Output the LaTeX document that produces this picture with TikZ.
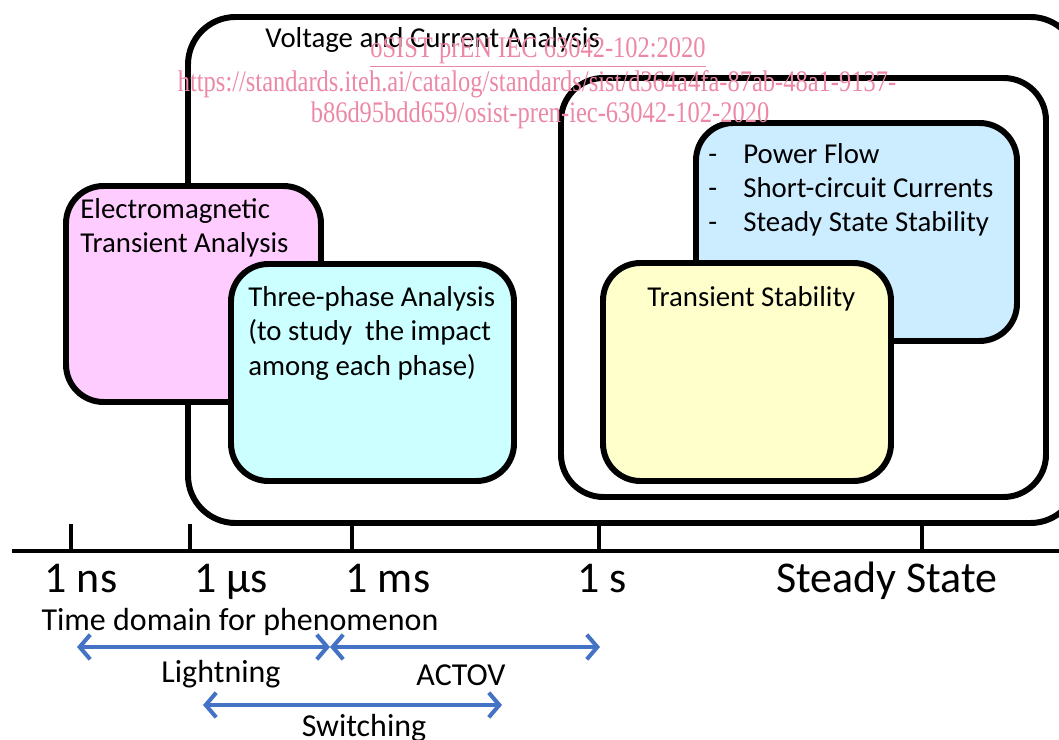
\documentclass[tikz,border=0pt]{standalone}
\usepackage{fontspec}
\setmainfont{Carlito}
\newfontfamily\wmfont{Liberation Serif}
\usetikzlibrary{arrows.meta,positioning}

\definecolor{emtpink}{HTML}{FFCCFF}
\definecolor{tpcyan}{HTML}{CCFFFF}
\definecolor{pfblue}{HTML}{CCECFF}
\definecolor{tsyellow}{HTML}{FFFFCC}
\definecolor{spanblue}{HTML}{4472C4}
\definecolor{wmpink}{HTML}{EC88A6}

\tikzset{
  frame/.style={draw=black, line width=3.4pt, rounded corners=0.95cm},
  area/.style={draw=black, line width=3.4pt, rounded corners=0.75cm},
  lbl/.style={anchor=base west, align=left, inner sep=0pt, font=\fontsize{16.4}{19.4}\selectfont},
  ticklbl/.style={anchor=base, inner sep=0pt, font=\fontsize{25}{28}\selectfont},
  phlbl/.style={anchor=base, inner sep=0pt, font=\fontsize{18.2}{21}\selectfont},
  axistick/.style={line width=2.4pt},
  span/.style={draw=spanblue, line width=2.3pt,
    {Straight Barb[length=6pt,width=14pt]}-{Straight Barb[length=6pt,width=14pt]}},
  wm/.style={anchor=base, inner sep=0pt, text=wmpink, font=\wmfont\fontsize{17}{20}\selectfont},
}

\begin{document}
\begin{tikzpicture}[x=0.02cm, y=-0.02cm]
        \useasboundingbox (0,0) rectangle (1059,740);
        % frames
        \draw [frame] (188,17) rectangle (1078,523);
        \draw [frame, rounded corners=0.85cm] (561,78) rectangle (1046,497);
        % coloured areas
        \draw [area, fill=pfblue] (696,123) rectangle (1017,341);
        \draw [area, fill=tsyellow] (603,263) rectangle (891,481);
        \draw [area, fill=emtpink] (66,186) rectangle (321,402);
        \draw [area, fill=tpcyan] (231,264) rectangle (514,481);
        % texts (base = last line)
        \node [lbl] (vca) at (265,48) {Voltage and Current Analysis};
        \node [lbl] (emt) at (80,253) {Electromagnetic\\Transient Analysis};
        \node [lbl] (tpa) at (248,375) {Three-phase Analysis\\(to study\ \ the impact\\among each phase)};
        \node [lbl] (dash) at (708,232) {-\\-\\-};
        \node [lbl] (pf) at (743,232) {Power Flow\\Short-circuit Currents\\Steady State Stability};
        \node [lbl] (ts) at (647,306) {Transient Stability};
        % time axis
        \draw [line width=2.8pt] (12,551) -- (1059,551);
        \foreach \x in {71,190,352,599,922}
          \draw [axistick] (\x,524) -- (\x,551);
        \node [ticklbl] (ns) at (81,592) {1 ns};
        \node [ticklbl] (us) at (231,592) {1 µs};
        \node [ticklbl] (ms) at (388,592) {1 ms};
        \node [ticklbl] (sec) at (602,592) {1 s};
        \node [ticklbl] (ss) at (887,592) {Steady State};
        \node [phlbl] (tdom) at (240,630) {Time domain for phenomenon};
        % phenomena spans
        \coordinate (lt-a) at (77,647);
        \coordinate (lt-b) at (330,647);
        \coordinate (ac-b) at (600,647);
        \coordinate (sw-a) at (203,705);
        \coordinate (sw-b) at (502,705);
        \draw [span] (lt-a) -- (lt-b);
        \draw [span] (lt-b) -- (ac-b);
        \draw [span] (sw-a) -- (sw-b);
        \node [phlbl] (light) at (221,682) {Lightning};
        \node [phlbl] (actov) at (461,685) {ACTOV};
        \node [phlbl] (sw) at (364,736) {Switching};
        % watermark
        \node [wm] (wm1) at (538,58) {\scalebox{0.82}[1]{\underline{oSIST prEN IEC 63042-102:2020}}};
        \node [wm] (wm2) at (537,92) {\scalebox{0.82}[1]{https://standards.iteh.ai/catalog/standards/sist/d364a4fa-87ab-48a1-9137-}};
        \node [wm] (wm3) at (540,123) {\scalebox{0.82}[1]{b86d95bdd659/osist-pren-iec-63042-102-2020}};
\end{tikzpicture}
\end{document}
